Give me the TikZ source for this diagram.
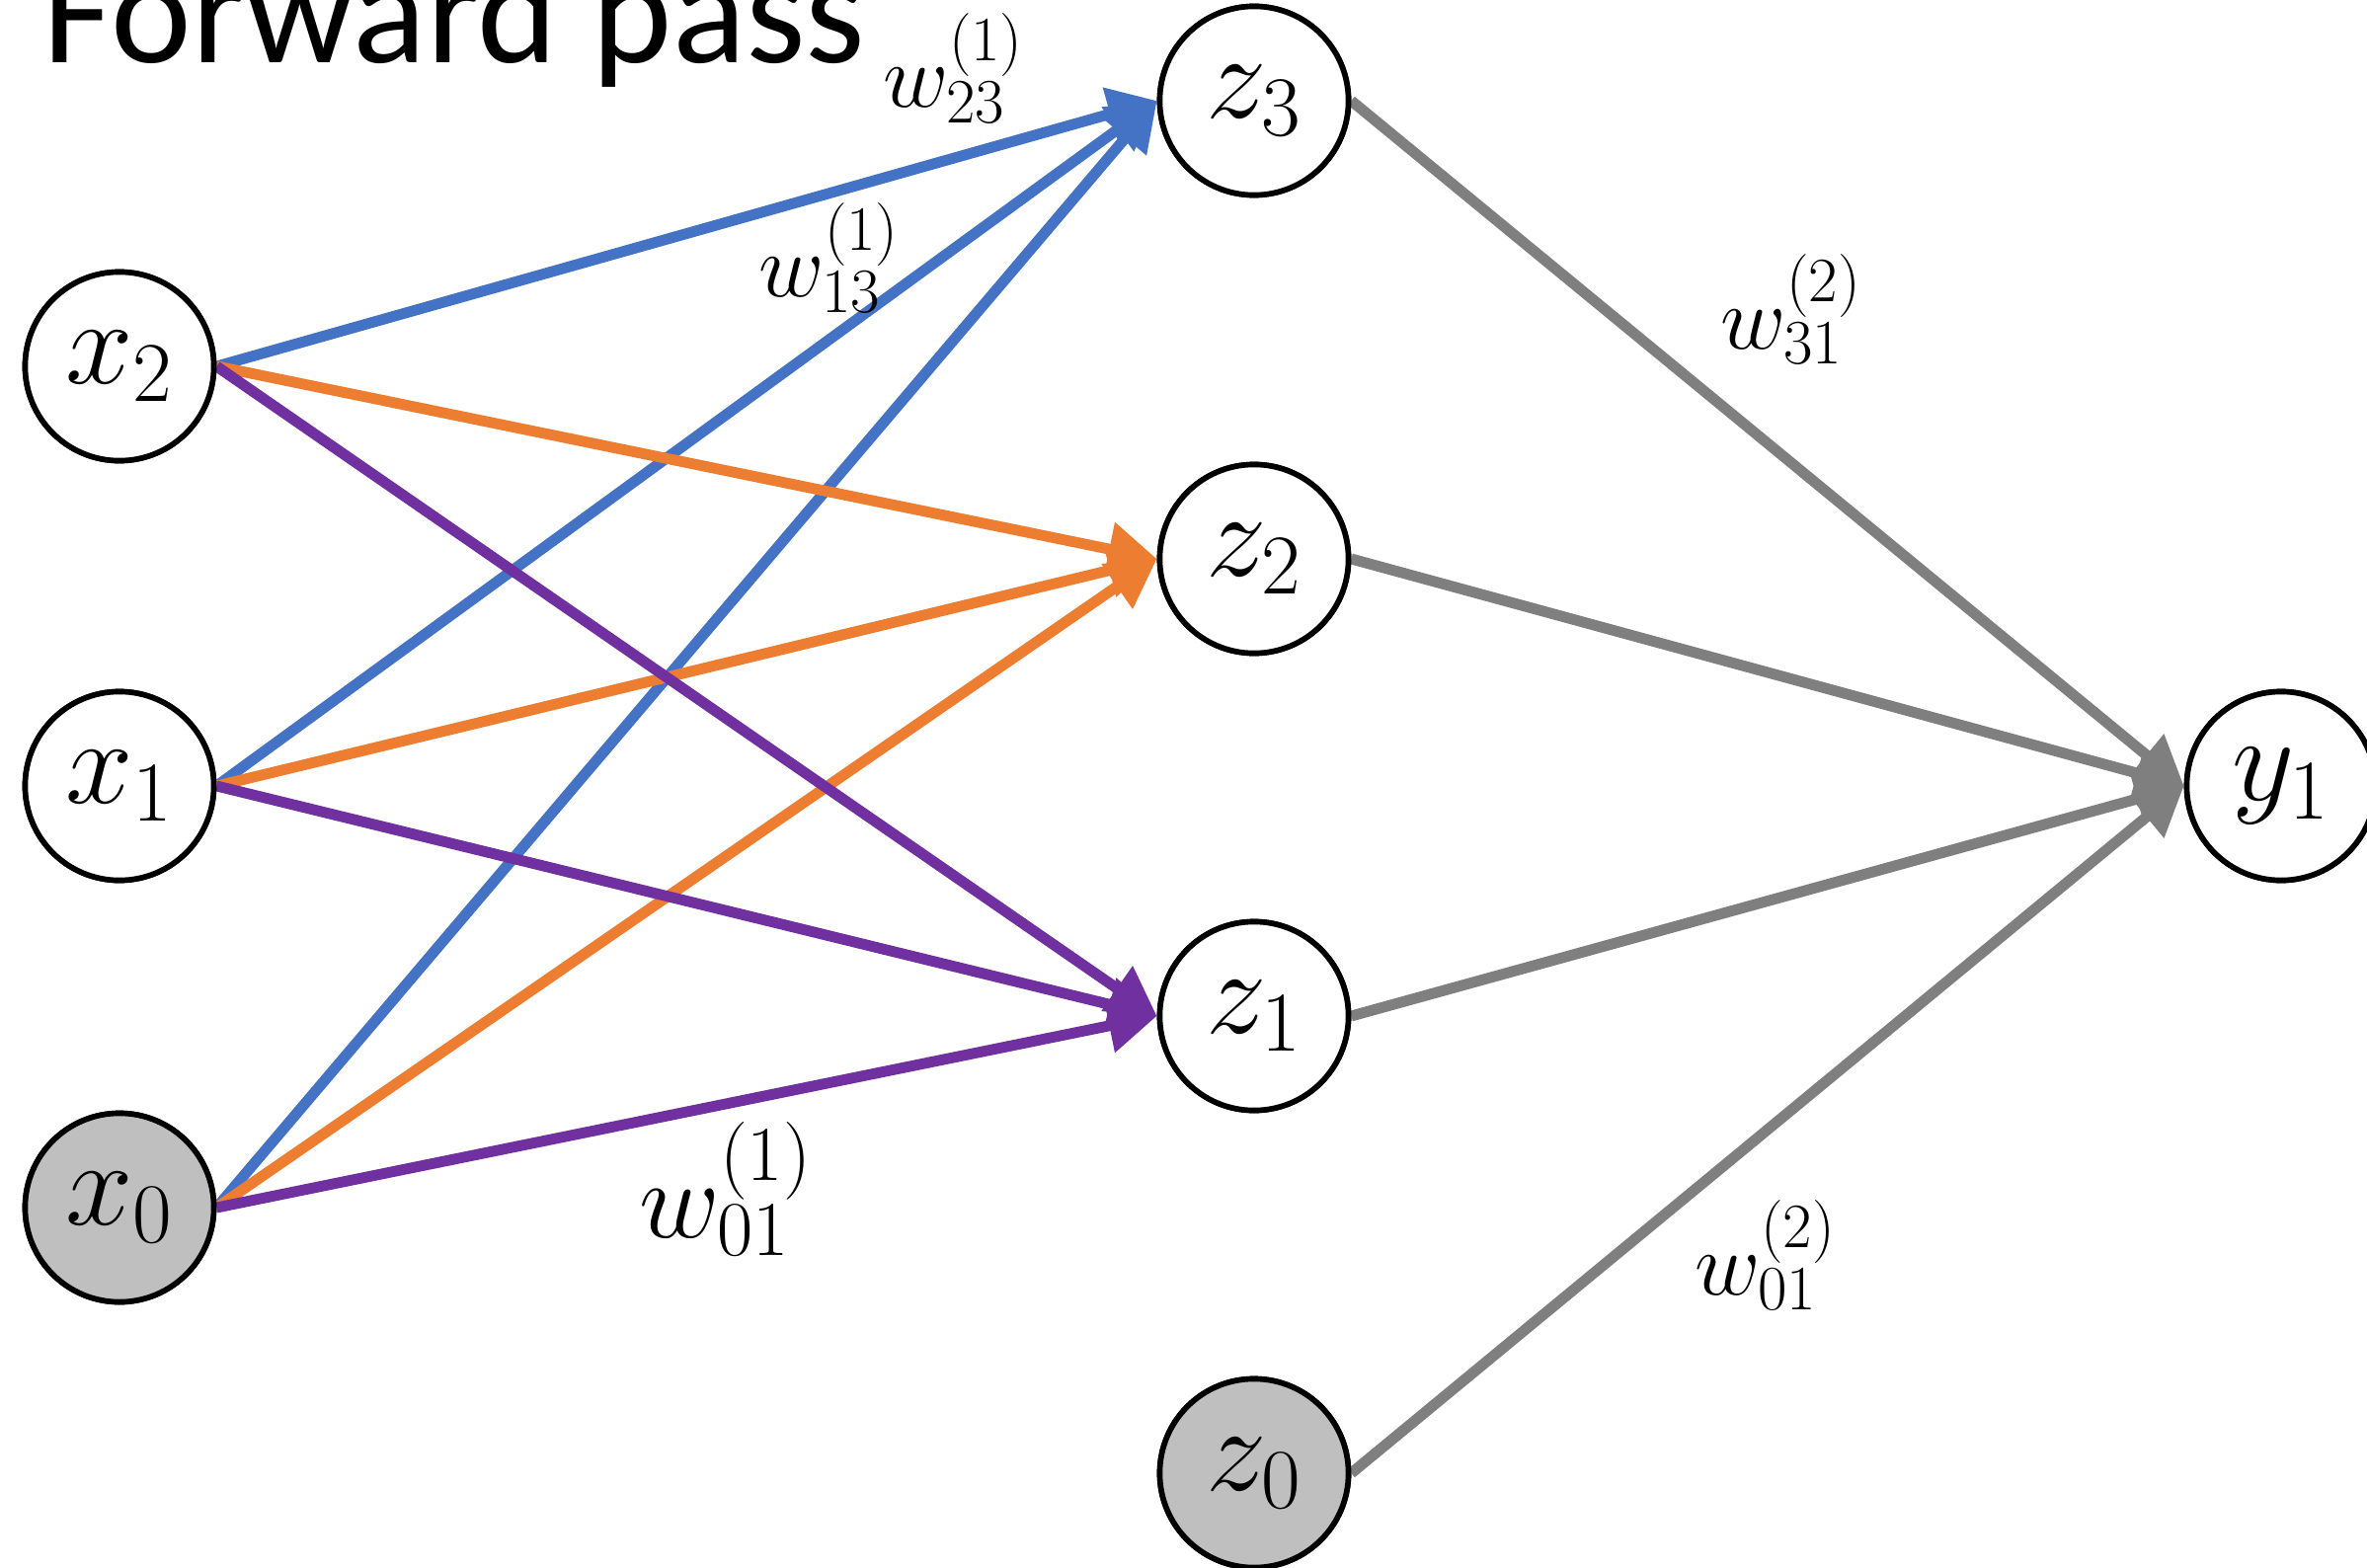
\documentclass[tikz,border=0pt]{standalone}
\usepackage{fix-cm}
\usepackage{fontspec}
\setmainfont{Carlito}
\usetikzlibrary{arrows.meta}
\definecolor{cblue}{HTML}{4472C4}
\definecolor{corange}{HTML}{ED7D31}
\definecolor{cpurple}{HTML}{7030A0}
\definecolor{cgray}{HTML}{7F7F7F}
\definecolor{cfill}{HTML}{BFBFBF}
\begin{document}
\begin{tikzpicture}[x=0.01cm,y=-0.01cm,
  neuron/.style={circle,draw=black,line width=1.6pt,fill=white,minimum size=1.91cm,inner sep=0pt,font=\fontsize{35}{42}\selectfont},
  bias/.style={neuron,fill=cfill},
  wlab/.style={inner sep=0pt,font=\fontsize{26}{31}\selectfont},
  wbig/.style={inner sep=0pt,font=\fontsize{32}{38}\selectfont},
  conn/.style={line width=3.1pt,-{Triangle[length=14pt,width=15pt]}},
  ]
\useasboundingbox (0,0) rectangle (2397,1588);
\node[anchor=base west,inner sep=0pt,font=\fontsize{44}{50}\selectfont] (title) at (43,64) {Forward pass};
\coordinate (px2) at (121,371);
\coordinate (px1) at (121,796);
\coordinate (px0) at (121,1223);
\coordinate (pz3) at (1270,102);
\coordinate (pz2) at (1270,566);
\coordinate (pz1) at (1270,1029);
\coordinate (pz0) at (1270,1492);
\coordinate (py1) at (2310,796);
\node[neuron] (x2) at (px2) {$x_2$};
\node[neuron] (x1) at (px1) {$x_1$};
\node[bias] (x0) at (px0) {$x_0$};
\node[neuron] (z3) at (pz3) {$z_3$};
\node[neuron] (z2) at (pz2) {$z_2$};
\node[neuron] (z1) at (pz1) {$z_1$};
\node[bias] (z0) at (pz0) {$z_0$};
\node[neuron] (y1) at (py1) {$y_1$};
% connectors
\draw[conn,cgray] (z3.east) -- (y1.west);
\draw[conn,cgray] (z2.east) -- (y1.west);
\draw[conn,cgray] (z1.east) -- (y1.west);
\draw[conn,cgray] (z0.east) -- (y1.west);
\draw[conn,cblue] (x0.east) -- (z3.west);
\draw[conn,cblue] (x1.east) -- (z3.west);
\draw[conn,cblue] (x2.east) -- (z3.west);
\draw[conn,corange] (x0.east) -- (z2.west);
\draw[conn,corange] (x1.east) -- (z2.west);
\draw[conn,corange] (x2.east) -- (z2.west);
\draw[conn,cpurple] (x0.east) -- (z1.west);
\draw[conn,cpurple] (x1.east) -- (z1.west);
\draw[conn,cpurple] (x2.east) -- (z1.west);
% redraw nodes on top
\node[neuron] at (px2) {$x_2$};
\node[neuron] at (px1) {$x_1$};
\node[bias] at (px0) {$x_0$};
\node[neuron] at (pz3) {$z_3$};
\node[neuron] at (pz2) {$z_2$};
\node[neuron] at (pz1) {$z_1$};
\node[bias] at (pz0) {$z_0$};
\node[neuron] at (py1) {$y_1$};
% weight labels
\node[wlab] (w23) at (966,69) {$w^{(1)}_{23}$};
\node[wlab] (w13) at (840,261) {$w^{(1)}_{13}$};
\node[wlab] (w31) at (1814,313) {$w^{(2)}_{31}$};
\node[wbig] (w01a) at (735,1204) {$w^{(1)}_{01}$};
\node[wlab] (w01b) at (1788,1271) {$w^{(2)}_{01}$};
\end{tikzpicture}
\end{document}
